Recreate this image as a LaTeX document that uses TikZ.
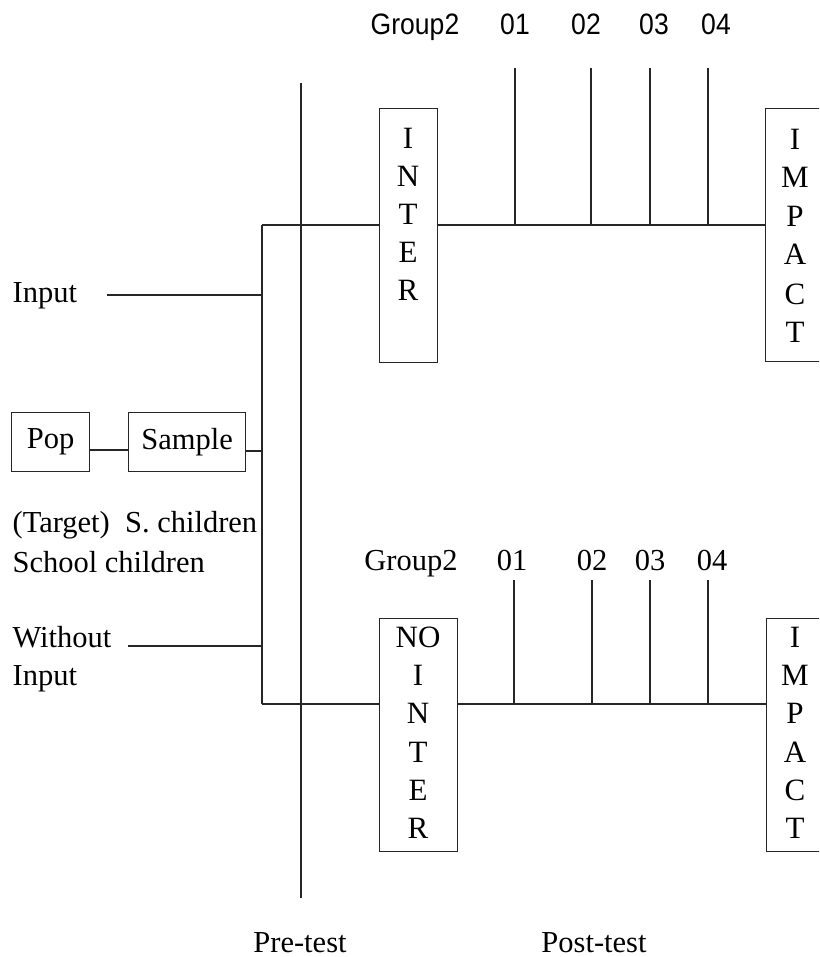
\documentclass[tikz,border=0pt]{standalone}
\usepackage{fontspec}
\setmainfont{Liberation Serif}
\newfontfamily\headsans[FakeStretch=0.9]{Liberation Sans}
\begin{document}
\begin{tikzpicture}[x=1pt,y=-1pt,line width=1.2pt,draw=black!85,
  txt/.style={inner sep=0pt,anchor=base west,font=\fontsize{30.5}{36}\selectfont},
  ctxt/.style={inner sep=0pt,anchor=base,font=\fontsize{30.5}{36}\selectfont},
  headtxt/.style={inner sep=0pt,anchor=base,font=\headsans\fontsize{29.5}{34}\selectfont},
  letter/.style={inner sep=0pt,anchor=base,font=\fontsize{31}{36}\selectfont},
  box/.style={draw,inner sep=0pt,anchor=north west,font=\fontsize{30.5}{36}\selectfont}]
\useasboundingbox (0,0) rectangle (819,957);
\clip (0,0) rectangle (819,957);

% ---- headings of the intervention group ----
\node[headtxt] (hg)  at (415,35) {Group2};
\node[headtxt] (h01) at (515,35) {01};
\node[headtxt] (h02) at (586,35) {02};
\node[headtxt] (h03) at (654,35) {03};
\node[headtxt] (h04) at (716,35) {04};

% ---- pre-test divider ----
\coordinate (preTop) at (301,83);
\coordinate (preBot) at (301,898);
\draw (preTop) -- (preBot);

% ---- boxes ----
\node[box,minimum width=58pt,minimum height=254pt] (inter) at (379,108) {};
\node[box,minimum width=70pt,minimum height=253pt] (impA) at (765,108) {};
\node[box,minimum width=78pt,minimum height=233pt] (nointer) at (379,618) {};
\node[box,minimum width=70pt,minimum height=233pt] (impB) at (766,618) {};
\node[box,minimum width=78pt,minimum height=59pt] (pop) at (11,412) {Pop};
\node[box,minimum width=117pt,minimum height=59pt] (sample) at (128,412) {Sample};

% ---- stacked letters ----
\foreach \ch/\yy [count=\k] in {I/149,N/187,T/225,E/263,R/301}
  \node[letter] (interL\k) at (408,\yy) {\ch};
\foreach \ch/\yy [count=\k] in {I/150,M/188,P/227,A/265,C/304,T/342}
  \node[letter] (impAL\k) at (795,\yy) {\ch};
\foreach \ch/\yy [count=\k] in {NO/647,I/685,N/723,T/762,E/800,R/838}
  \node[letter] (nointerL\k) at (418,\yy) {\ch};
\foreach \ch/\yy [count=\k] in {I/647,M/685,P/723,A/762,C/800,T/838}
  \node[letter] (impBL\k) at (795,\yy) {\ch};

% ---- left bus and rails ----
\coordinate (busTop) at (262,225);
\coordinate (busBot) at (262,704);
\draw (busTop) -- (busBot);
\draw (busTop) -- (busTop -| inter.west);
\draw (inter.east |- busTop) -- (impA.west |- busTop);
\draw (busBot) -- (busBot -| nointer.west);
\draw (nointer.east |- busBot) -- (impB.west |- busBot);

% ---- observation ticks ----
\foreach \xx [count=\k] in {515,591,650,708} {
  \coordinate (ta\k) at (\xx,68);
  \draw (ta\k) -- (ta\k |- busTop);
}
\foreach \xx [count=\k] in {514,592,650,708} {
  \coordinate (tb\k) at (\xx,580);
  \draw (tb\k) -- (tb\k |- busBot);
}

% ---- left side inputs ----
\node[txt] (input) at (12,302) {Input};
\coordinate (inEnd) at (107,295);
\draw (inEnd) -- (inEnd -| busTop);

\draw (pop.east |- 0,450) -- (sample.west |- 0,450);
\draw (sample.east |- 0,451) -- (busTop |- 0,451);

\node[txt] (target) at (12,532) {(Target)\ \ S. children};
\node[txt] (school) at (12,572) {School children};

\node[txt] (without) at (12,647) {Without};
\node[txt] (without2) at (12,685) {Input};
\coordinate (woEnd) at (128,646);
\draw (woEnd) -- (woEnd -| busTop);

% ---- control group headings ----
\node[ctxt] (lg)  at (411,570) {Group2};
\node[ctxt] (l01) at (512,570) {01};
\node[ctxt] (l02) at (592,570) {02};
\node[ctxt] (l03) at (650,570) {03};
\node[ctxt] (l04) at (712,570) {04};

% ---- phase captions ----
\node[ctxt] (pre)  at (300,952) {Pre-test};
\node[ctxt] (post) at (594,952) {Post-test};
\end{tikzpicture}
\end{document}
